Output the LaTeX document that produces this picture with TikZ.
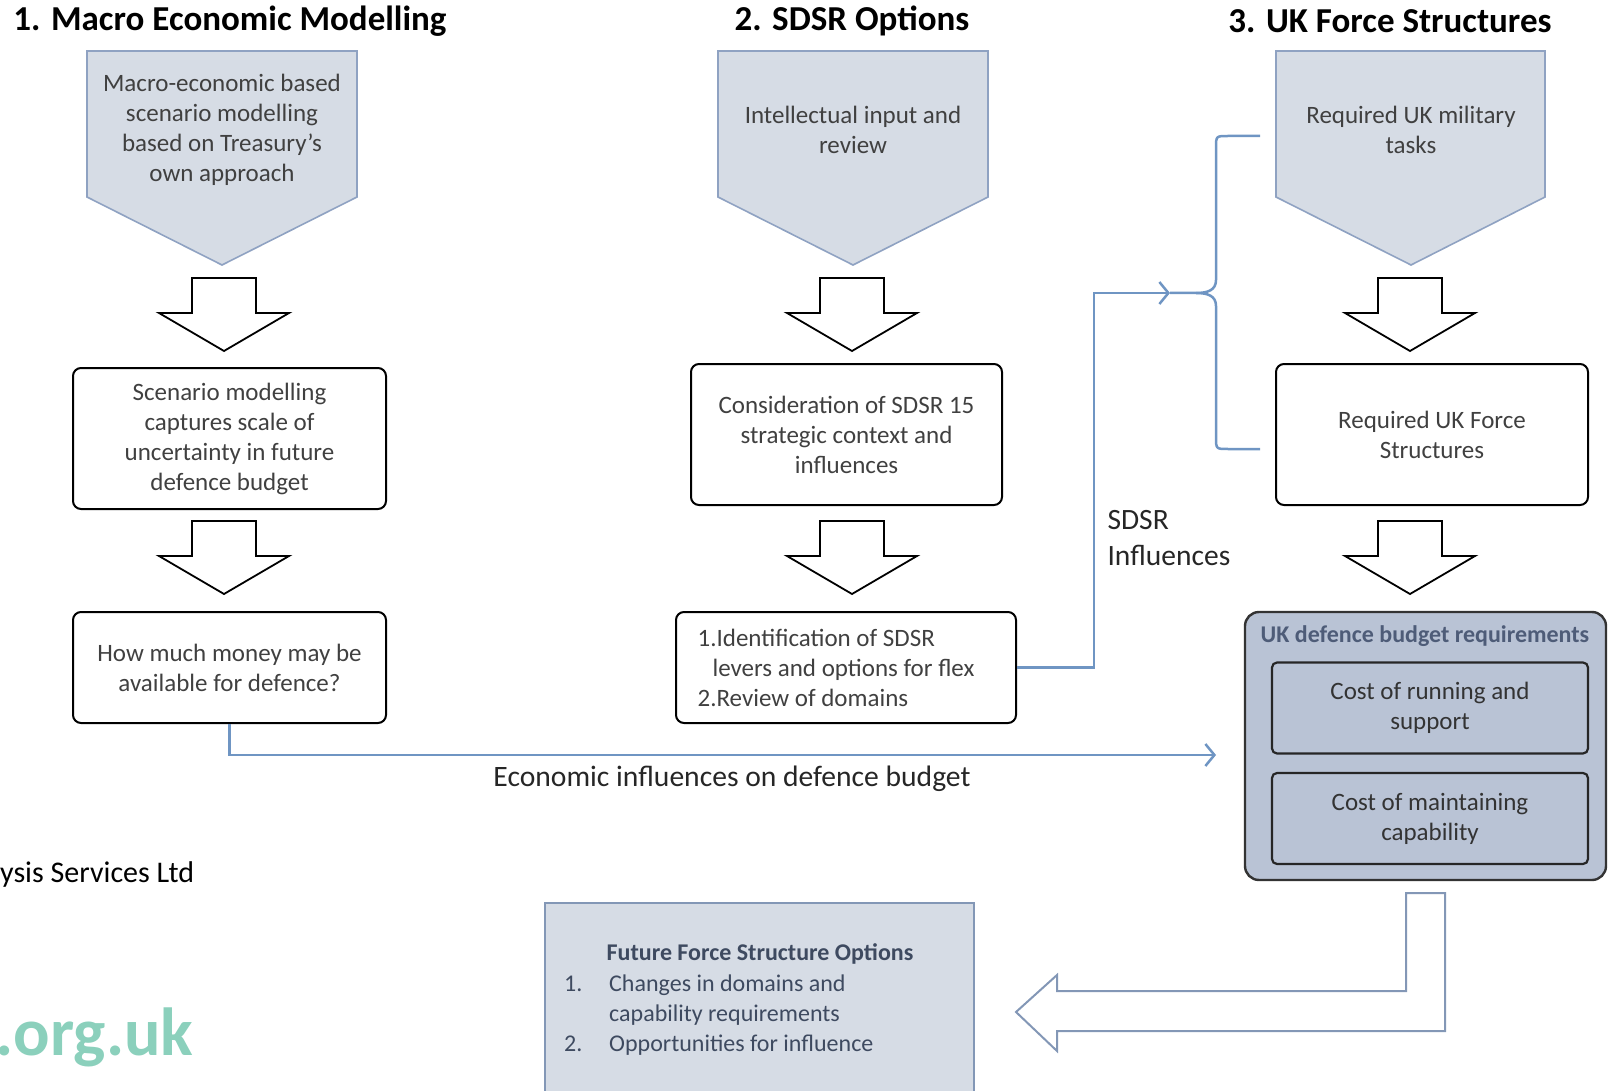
\documentclass[tikz,border=0pt]{standalone}
\usepackage{fontspec}
\setmainfont{Carlito}
\usetikzlibrary{arrows.meta,positioning}
\definecolor{penfill}{HTML}{D6DCE5}
\definecolor{penline}{HTML}{8FA2C2}
\definecolor{linkblue}{HTML}{6F95C3}
\definecolor{boxtext}{HTML}{404040}
\definecolor{budgetfill}{HTML}{B9C3D5}
\definecolor{budgettitle}{HTML}{4E5C78}
\definecolor{futureline}{HTML}{8397B6}
\definecolor{futuretext}{HTML}{3E4A60}
\definecolor{orggreen}{HTML}{8BD0BC}
\newcommand{\fsize}[2]{\fontsize{#1}{#2}\selectfont}
\tikzset{
    >={Straight Barb[length=9pt,width=22pt]},
    heading/.style={font=\bfseries\fsize{35}{40}},
    box text/.style={align=center,text=boxtext,font=\fsize{25}{30}},
    pentagon/.style={draw=penline,fill=penfill,line width=1.6pt},
    plain box/.style={box text,draw=black,rounded corners=8pt,line width=2pt,minimum width=313pt,minimum height=141pt,inner sep=0pt},
    low box/.style={plain box,minimum height=111pt},
    budget box/.style={draw=black!80,fill=budgetfill,rounded corners=14pt,line width=2.4pt},
    cost box/.style={box text,text=black!80,draw=black!85,fill=budgetfill,rounded corners=5pt,line width=2.2pt,minimum width=316pt,minimum height=91pt},
    future box/.style={draw=futureline,fill=penfill,line width=2pt},
    hollow arrow/.style={draw=black,fill=white,line width=1.8pt},
    return arrow/.style={draw=futureline,fill=white,line width=2pt},
    link/.style={draw=linkblue,line width=2.5pt}
}
\newcommand{\downblock}[1]{%
    \draw[hollow arrow] (#1) ++(-32,0) -- ++(64,0) -- ++(0,35) -- ++(33,0)
        -- ++(-65,38) -- ++(-65,-38) -- ++(33,0) -- cycle;}

\begin{document}
\begin{tikzpicture}[x=1pt,y=-1pt]
    \useasboundingbox (0,0) rectangle (1609,1091);
    \clip (0,0) rectangle (1609,1091);
    % headings
    \node[heading] (h1) at (230,21) {1. Macro Economic Modelling};
    \node[heading] (h2) at (852,21) {2. SDSR Options};
    \node[heading] (h3) at (1390,21) {3. UK Force Structures};
    % pentagons
    \draw[pentagon] (87,51) -- (357,51) -- (357,197) -- (222,265) -- (87,197) -- cycle;
    \draw[pentagon] (718,51) -- (988,51) -- (988,197) -- (853,265) -- (718,197) -- cycle;
    \draw[pentagon] (1276,51) -- (1545,51) -- (1545,197) -- (1411,265) -- (1276,197) -- cycle;
    \node[box text] (p1) at (222,130) {Macro-economic based\\scenario modelling\\based on Treasury’s\\own approach};
    \node[box text] (p2) at (853,130) {Intellectual input and\\review};
    \node[box text] (p3) at (1411,130) {Required UK military\\tasks};
    % block arrows
    \downblock{224,278}
    \downblock{852,278}
    \downblock{1410,278}
    \downblock{224,521}
    \downblock{852,521}
    \downblock{1410,521}
    % boxes
    \node[plain box] (1) at (229.5,438.5) {Scenario modelling\\captures scale of\\uncertainty in future\\defence budget};
    \node[low box] (2) at (229.5,667.5) {How much money may be\\available for defence?};
    \node[plain box, minimum width=311pt] (3) at (846.5,434.5) {Consideration of SDSR 15\\strategic context and\\influences};
    \node[low box, minimum width=340pt, align=left] (4) at (846,667.5) {1.Identification of SDSR\\\hspace*{15pt}levers and options for flex\rule{20pt}{0pt}\\2.Review of domains};
    \node[plain box, minimum width=312pt] (5) at (1432,434.5) {Required UK Force\\Structures};
    % budget
    \node[budget box, minimum width=361pt, minimum height=268pt] (budget) at (1425.5,746) {};
    \node[font=\bfseries\fsize{24}{28}, text=budgettitle] (budgettitle) at (1425,636) {UK defence budget requirements};
    \node[cost box] (run) at (1430,708) {Cost of running and\\support};
    \node[cost box] (keep) at (1430,818.5) {Cost of maintaining\\capability};
    % future options
    \node[future box, minimum width=429pt, minimum height=194pt] (future) at (759.5,1000) {};
    \node[font=\bfseries\fsize{24}{28}, text=futuretext] (ftitle) at (760,954) {Future Force Structure Options};
    \node[anchor=west, align=left, inner sep=0pt, font=\fsize{24}{30}, text=futuretext] (flist) at (564,1015)
        {\makebox[45pt][l]{1.}Changes in domains and\\\hspace*{45pt}capability requirements\\\makebox[45pt][l]{2.}Opportunities for influence};
    % links
    \coordinate (econ) at (1216,755);
    \draw[link,->] (2.south) |- (econ);
    \node[font=\fsize{29.6}{34}, text=black!85] (econlabel) at (732,779) {Economic influences on defence budget};
    \coordinate (turn) at (1094,293);
    \coordinate (in) at (1170,293);
    \draw[link,->] (4.east) -| (turn) -- (in);
    \draw[link] (in) -- (1196,293)
        .. controls (1208,293) and (1216,290) .. (1216,280) -- (1216,148)
        .. controls (1216,136) .. (1228,136) -- (1260,136);
    \draw[link] (1196,293)
        .. controls (1208,293) and (1216,296) .. (1216,306) -- (1216,437)
        .. controls (1216,449) .. (1228,449) -- (1260,449);
    \node[anchor=west, align=left, font=\fsize{29.5}{36}, text=black!85] (sdsr) at (1104,538) {SDSR\\Influences};
    % return arrow
    \draw[return arrow] (1406,893) -- (1445,893) -- (1445,1031) -- (1057,1031) -- (1057,1051)
        -- (1016,1012) -- (1057,975) -- (1057,991) -- (1406,991) -- cycle;
    % logo fragments
    \node[anchor=base west, inner xsep=0pt, font=\fsize{30}{34}] (ltd) at (0,882) {ysis Services Ltd};
    \node[anchor=base east, font=\bfseries\fsize{68}{72}, text=orggreen] (org) at (197,1055) {.org.uk};
\end{tikzpicture}
\end{document}
